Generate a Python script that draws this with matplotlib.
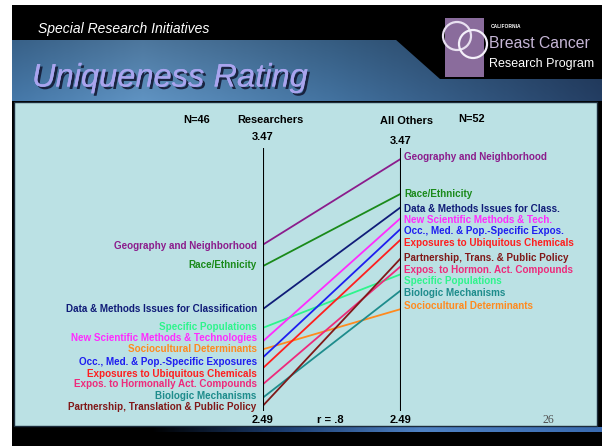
import numpy as np
import matplotlib
matplotlib.use("Agg")
import matplotlib.pyplot as plt
import matplotlib.patheffects as pe
from matplotlib.patches import Rectangle, Polygon, Circle
from matplotlib.colors import LinearSegmentedColormap

# ---------------- data ----------------
left_labels = [
    "Geography and Neighborhood",
    "Race/Ethnicity",
    "Data & Methods Issues for Classification",
    "Specific Populations",
    "New Scientific Methods & Technologies",
    "Sociocultural Determinants",
    "Occ., Med. & Pop.-Specific Exposures",
    "Exposures to Ubiquitous Chemicals",
    "Expos. to Hormonally Act. Compounds",
    "Biologic Mechanisms",
    "Partnership, Translation & Public Policy",
]
right_labels = [
    "Geography and Neighborhood",
    "Race/Ethnicity",
    "Data & Methods Issues for Class.",
    "Specific Populations",
    "New Scientific Methods & Tech.",
    "Sociocultural Determinants",
    "Occ., Med. & Pop.-Specific Expos.",
    "Exposures to Ubiquitous Chemicals",
    "Expos. to Hormon. Act. Compounds",
    "Biologic Mechanisms",
    "Partnership, Trans. & Public Policy",
]
researchers = [3.11, 3.03, 2.87, 2.80, 2.75, 2.72, 2.69, 2.65, 2.59, 2.54, 2.51]
all_others = [3.43, 3.30, 3.25, 3.00, 3.21, 2.87, 3.17, 3.13, 3.03, 2.94, 3.06]
axis_min, axis_max = 2.49, 3.47
n_researchers, n_others = 46, 52
r_value = ".8"

# ---------------- styles / layout ----------------
colors = ["#8B1C8C", "#1A8A1A", "#101C78", "#2EF58C", "#FF2BFF", "#FF8A1E",
          "#1E1EF0", "#FF1E1E", "#EE2A7B", "#1E8C8C", "#801818"]
# label anchor positions (value units), nudged to avoid overlap
left_label_pos = [3.105, 3.034, 2.870, 2.803, 2.762, 2.721, 2.673, 2.628, 2.591, 2.546, 2.505]
right_label_pos = [3.436, 3.299, 3.243, 2.974, 3.202, 2.881, 3.161, 3.116, 3.015, 2.930, 3.060]

W, H = 602, 446
fig = plt.figure(figsize=(W / 100, H / 100), dpi=100)
fig.patch.set_facecolor("white")

bg = fig.add_axes([0, 0, 1, 1])
bg.set_xlim(0, W)
bg.set_ylim(H, 0)
bg.axis("off")

# black slide
bg.add_patch(Rectangle((12, 5), W - 12, H - 5, facecolor="black", edgecolor="none", zorder=0))

# blue title band gradient
xs = np.linspace(0, 1, 300)
cmap = LinearSegmentedColormap.from_list(
    "band", [(0, "#4272A0"), (0.22, "#5B8CB9"), (0.55, "#3F6C97"), (1.0, "#223B5E")])
row = cmap(xs)[None, :, :3]
vert = np.linspace(0.85, 1.05, 40)[:, None, None]
grad = np.clip(row * vert, 0, 1)
bg.imshow(grad, extent=(12, W, 101, 40), aspect="auto", zorder=1, interpolation="bilinear")

# black wedge under logo
bg.add_patch(Polygon([(395, 39), (W, 39), (W, 79), (440, 79)], closed=True,
                     facecolor="black", edgecolor="none", zorder=2))

# light panel
bg.add_patch(Rectangle((14, 102), 583, 324, facecolor="#BBE1E4", edgecolor="#1B2B3B",
                       lw=1.0, zorder=3))

# bottom blue stripe
stripe_cmap = LinearSegmentedColormap.from_list(
    "stripe", [(0, "#000000"), (0.3, "#1D3F73"), (0.6, "#4F82C4"), (1.0, "#3A6BB0")])
srow = stripe_cmap(np.linspace(0, 1, 300))[None, :, :3]
bg.imshow(np.repeat(srow, 4, axis=0), extent=(150, W, 432, 427), aspect="auto",
          zorder=2, interpolation="bilinear")

sans = ["Liberation Sans", "DejaVu Sans"]

# titles
bg.text(38, 29, "Special Research Initiatives", color="white", fontsize=10,
        fontstyle="italic", family=sans, va="center", ha="left", zorder=5)
bg.text(32, 78, "Uniqueness Rating", color="#A9A4EE", fontsize=23.5,
        fontstyle="italic", family=sans, va="center", ha="left", zorder=6,
        path_effects=[pe.withSimplePatchShadow(offset=(1.8, -1.8),
                                               shadow_rgbFace="#141A35", alpha=0.9),
                      pe.Normal()])

# logo
bg.add_patch(Rectangle((445, 18), 39, 59, facecolor="#8A6C9C", edgecolor="none", zorder=5))
bg.add_patch(Circle((457, 36), 14, facecolor="none", edgecolor="#E8E0F0", lw=1.6, zorder=6))
bg.add_patch(Circle((473, 44), 14, facecolor="none", edgecolor="#F4F0FA", lw=1.6, zorder=6))
bg.text(491, 26, "CALIFORNIA", color="white", fontsize=3.5, fontweight="bold",
        family=sans, va="center", ha="left", zorder=6)
bg.text(489, 43, "Breast Cancer", color="#C6B6D6", fontsize=11.3,
        family=sans, va="center", ha="left", zorder=6)
bg.text(489, 64, "Research Program", color="white", fontsize=9,
        family=sans, va="center", ha="left", zorder=6)

# ---------------- chart ----------------
x_left_px, x_right_px = 263, 401
y_top_px, y_bot_px = 148, 411
ax = fig.add_axes([x_left_px / W, (H - y_bot_px) / H,
                   (x_right_px - x_left_px) / W, (y_bot_px - y_top_px) / H])
ax.set_xlim(0, 1)
ax.set_ylim(axis_min, axis_max)
ax.axis("off")
ax.patch.set_alpha(0)

ax.plot([0, 0], [axis_min, axis_max], color="black", lw=1.5, zorder=4)
ax.plot([1, 1], [axis_min, axis_max], color="black", lw=1.5, zorder=4)

for i in range(len(researchers)):
    ax.plot([0, 1], [researchers[i], all_others[i]], color=colors[i], lw=1.3,
            solid_capstyle="butt", zorder=3)
    ax.annotate(left_labels[i], xy=(0, left_label_pos[i]), xytext=(-4.5, 0),
                textcoords="offset points", ha="right", va="center",
                fontsize=7.1, fontweight="bold", color=colors[i], family=sans,
                annotation_clip=False)
    ax.annotate(right_labels[i], xy=(1, right_label_pos[i]), xytext=(2.5, 0),
                textcoords="offset points", ha="left", va="center",
                fontsize=7.1, fontweight="bold", color=colors[i], family=sans,
                annotation_clip=False)

tick_kw = dict(textcoords="offset points", ha="center", va="center", fontsize=8,
               fontweight="bold", color="black", family=sans, annotation_clip=False)
ax.annotate(f"{axis_max:.2f}", xy=(0, axis_max), xytext=(0, 8), **tick_kw)
ax.annotate(f"{axis_max:.2f}", xy=(1, axis_max), xytext=(0, 5), **tick_kw)
ax.annotate(f"{axis_min:.2f}", xy=(0, axis_min), xytext=(0, -6.6), **tick_kw)
ax.annotate(f"{axis_min:.2f}", xy=(1, axis_min), xytext=(0, -6.6), **tick_kw)
ax.annotate(f"r = {r_value}", xy=(0.485, axis_min), xytext=(0, -6.6), **tick_kw)

head_kw = dict(fontsize=7.9, fontweight="bold", color="black", family=sans,
               ha="center", va="center", zorder=6)
bg.text(197, 120, f"N={n_researchers}", **head_kw)
bg.text(270, 120, "Researchers", **head_kw)
bg.text(407, 121, "All Others", **head_kw)
bg.text(472, 119, f"N={n_others}", **head_kw)

bg.text(548, 420, "26", fontsize=8.5, color="#505050",
        family=["Liberation Serif", "DejaVu Serif"], ha="center", va="center", zorder=6)

fig.savefig("out.png", dpi=100, facecolor=fig.get_facecolor())
